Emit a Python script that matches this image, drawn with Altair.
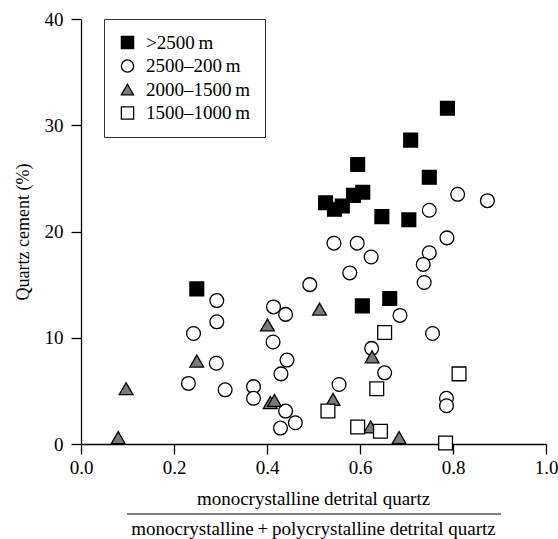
import altair as alt
import pandas as pd

groups = [">2500\u2009m", "2500\u2013200\u2009m", "2000\u20131500\u2009m", "1500\u20131000\u2009m"]

deep_x = [0.249, 0.526, 0.545, 0.562, 0.586, 0.606, 0.595, 0.647, 0.705, 0.709, 0.749, 0.788, 0.605, 0.664]
deep_y = [14.6, 22.7, 22.1, 22.4, 23.4, 23.7, 26.3, 21.4, 21.1, 28.6, 25.1, 31.6, 13.0, 13.7]

mid_x = [0.544, 0.594, 0.624, 0.578, 0.492, 0.292, 0.414, 0.440, 0.292, 0.242, 0.413, 0.291,
         0.443, 0.430, 0.231, 0.310, 0.371, 0.371, 0.555, 0.440, 0.461, 0.429, 0.810, 0.874,
         0.749, 0.787, 0.749, 0.736, 0.738, 0.686, 0.756, 0.625, 0.653, 0.786, 0.786]
mid_y = [18.9, 18.9, 17.6, 16.1, 15.0, 13.5, 12.9, 12.2, 11.5, 10.4, 9.6, 7.6,
         7.9, 6.6, 5.7, 5.1, 5.4, 4.3, 5.6, 3.1, 2.0, 1.5, 23.5, 22.9,
         22.0, 19.4, 18.0, 16.9, 15.2, 12.1, 10.4, 9.0, 6.7, 4.3, 3.6]

tri_x = [0.080, 0.097, 0.249, 0.401, 0.407, 0.416, 0.513, 0.542, 0.626, 0.623, 0.684]
tri_y = [0.6, 5.2, 7.8, 11.2, 3.9, 4.1, 12.7, 4.2, 8.2, 1.6, 0.6]

shallow_x = [0.531, 0.595, 0.644, 0.636, 0.653, 0.813, 0.784]
shallow_y = [3.1, 1.6, 1.2, 5.2, 10.5, 6.6, 0.1]

x_ticks = [0.0, 0.2, 0.4, 0.6, 0.8, 1.0]
y_ticks = [0, 10, 20, 30, 40]

numerator = "monocrystalline detrital quartz"
denominator = "monocrystalline\u2009+\u2009polycrystalline detrital quartz"

rows = []
for g, xs, ys in zip(groups, [deep_x, mid_x, tri_x, shallow_x], [deep_y, mid_y, tri_y, shallow_y]):
    for xv, yv in zip(xs, ys):
        rows.append({"ratio": xv, "cement": yv, "depth": g})
df = pd.DataFrame(rows)

FONT = "Liberation Serif, Times New Roman, Times, serif"
W, H = 465, 425

legend = alt.Legend(
    title=None, orient="none", legendX=23, legendY=0,
    strokeColor="#333333", fillColor="white", padding=14,
    labelFont=FONT, labelFontSize=19, labelColor="black", labelOffset=9,
    symbolSize=150, symbolStrokeColor="black", symbolStrokeWidth=1.3,
    rowPadding=3.5,
)

points = alt.Chart(df).mark_point(
    filled=True, strokeWidth=1.3, opacity=1, size=190
).encode(
    x=alt.X("ratio:Q", scale=alt.Scale(domain=[0, 1], nice=False),
            axis=alt.Axis(values=x_ticks, format=".1f", title=None, labelPadding=4,
                          labelFlush=False)),
    y=alt.Y("cement:Q", scale=alt.Scale(domain=[0, 40], nice=False),
            axis=alt.Axis(values=y_ticks, title="Quartz cement (%)", labelPadding=8,
                          titlePadding=12, labelFlush=False)),
    shape=alt.Shape("depth:N", scale=alt.Scale(domain=groups,
                    range=["square", "circle", "triangle-up", "square"]), legend=legend),
    fill=alt.Fill("depth:N", scale=alt.Scale(domain=groups,
                  range=["black", "white", "#7a7a7a", "white"]), legend=legend),
    stroke=alt.Stroke("depth:N", scale=alt.Scale(domain=groups,
                      range=["black", "black", "black", "black"]), legend=legend),
)

one = alt.Data(values=[{"a": 1}])
num = alt.Chart(one).mark_text(font=FONT, fontSize=19, color="black", align="center",
                               baseline="middle").encode(
    x=alt.value(W / 2), y=alt.value(480), text=alt.value(numerator))
bar = alt.Chart(one).mark_rule(color="black", strokeWidth=1.2).encode(
    x=alt.value(46), x2=alt.value(420), y=alt.value(495))
den = alt.Chart(one).mark_text(font=FONT, fontSize=19, color="black", align="center",
                               baseline="middle").encode(
    x=alt.value(W / 2), y=alt.value(510), text=alt.value(denominator))

chart = alt.layer(points, num, bar, den).properties(
    width=W, height=H,
    autosize=alt.AutoSizeParams(type="none"),
    padding={"left": 81, "top": 19, "right": 12, "bottom": 95},
    background="white",
).configure_view(stroke=None).configure_axis(
    grid=False, domainColor="black", domainWidth=1.3, tickColor="black", tickWidth=1.3,
    tickSize=10, labelFont=FONT, labelFontSize=19, labelColor="black",
    titleFont=FONT, titleFontSize=18, titleFontWeight="normal", titleColor="black",
)

chart.save("out.html", embed_options={"renderer": "svg", "actions": False})
